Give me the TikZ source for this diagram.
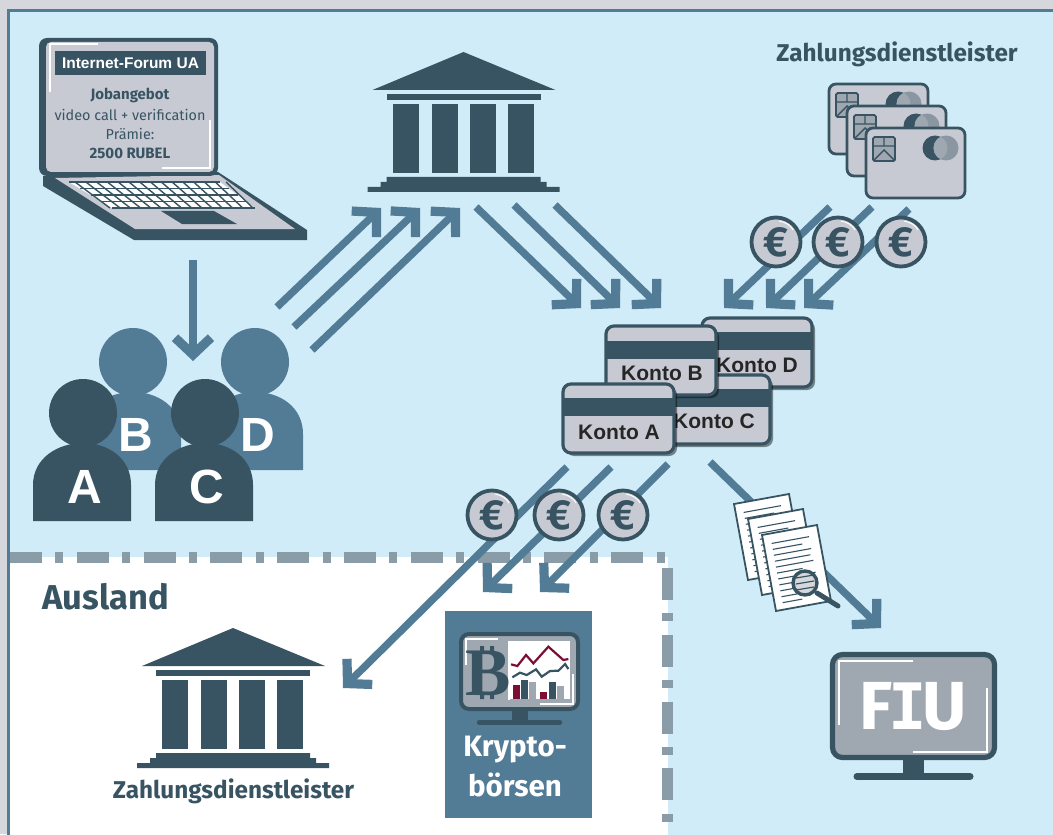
\documentclass[tikz,border=0pt]{standalone}
\usepackage{fontspec}
\setmainfont{Fira Sans}
\newfontfamily\arialf{Liberation Sans}
\newfontfamily\seriff{Liberation Serif}
\newfontfamily\monof{DejaVu Sans Mono}
\usetikzlibrary{arrows.meta,shadows}
\definecolor{dark}{HTML}{385463}
\definecolor{mid}{HTML}{527B96}
\definecolor{bgblue}{HTML}{CFECF8}
\definecolor{outer}{HTML}{D6D7DD}
\definecolor{cardg}{HTML}{C8CAD3}
\definecolor{scr}{HTML}{9FA7B0}
\definecolor{dashg}{HTML}{8A9CA8}
\definecolor{wine}{HTML}{7A0F33}
\newcommand{\fpx}[1]{\fontsize{\fpeval{#1/2}pt}{\fpeval{#1/2*1.15}pt}\selectfont}
\tikzset{
 x=.5pt,y=-.5pt,
 flow/.style={draw=mid,line width=3.7pt,-{Straight Barb[sharp,length=8.5pt,width=18pt,line width=4.6pt]}},
 coin/.style={circle,draw=dark,line width=1.9pt,fill=cardg,minimum size=24.5pt,inner sep=0pt,text=dark,font=\fpx{42}\bfseries},
 konto/.style={draw=dark,line width=1.6pt,fill=cardg,rounded corners=4pt,drop shadow={shadow xshift=1.5pt,shadow yshift=-1.5pt,opacity=.45,fill=black}},
 kontotext/.style={font=\arialf\fpx{21}\bfseries,text=black!85,inner sep=0pt},
 personlabel/.style={font=\arialf\fpx{48}\bfseries,text=white,inner sep=0pt},
 heading/.style={font=\fpx{24.3}\bfseries,text=dark,inner sep=0pt},
 scrtext/.style={font=\fpx{14.4},text=dark,inner sep=0pt},
 pics/bank/.style={code={
  \fill[dark] (0,0) -- (92,38) -- (-91,38) -- cycle;
  \fill[dark] (-77,42) rectangle (77,48);
  \foreach \cx in {-71,-32,6,44} \fill[dark] (\cx,52) rectangle ++(26,69);
  \fill[dark] (-77,125) -- (77,125) -- (77,130) -- (83,130) -- (83,135) -- (96,135) -- (96,140) -- (-96,140) -- (-96,135) -- (-83,135) -- (-83,130) -- (-77,130) -- cycle;
 }},
 pics/person/.style={code={
  \fill[#1] (0,0) circle[radius=34];
  \fill[#1] (-50,108) -- (-50,72) .. controls (-50,45) and (-25,30) .. (0,30) .. controls (25,30) and (48,45) .. (48,72) -- (48,108) -- cycle;
 }},
}
\newcommand{\creditcard}[2]{%
\begin{scope}[shift={(#1,#2)}]
 \draw[dark,line width=1.4pt,fill=cardg,rounded corners=3.5pt] (0,0) rectangle (99,70);
 \fill[dark] (69,20) circle[radius=12.5];
 \fill[scr!80!dark] (80,20) circle[radius=12.5];
 \begin{scope}\clip (69,20) circle[radius=12.5];\fill[scr] (80,20) circle[radius=12.5];\end{scope}
 \draw[dark,line width=.9pt,fill=scr,rounded corners=.8pt] (7,9) rectangle (29,33);
 \draw[dark,line width=.7pt] (7,18) -- (29,18) (18,9) -- (18,18) (7,33) -- (18,22) -- (29,33);
\end{scope}}
\newcommand{\docpage}[2]{%
\begin{scope}[shift={(#1,#2)},x={(.491pt,.0893pt)},y={(.0909pt,-.4935pt)}]
 \draw[dark,line width=.9pt,fill=white] (0,0) -- (56,0) -- (56,77) -- (0,77) -- cycle;
 \foreach \ly/\lx in {10/46,16/38,22/46,28/44,34/46,40/34,46/46,52/44,58/46,64/40,70/28}
   \draw[dark,line width=.55pt] (8,\ly) -- (\lx,\ly);
\end{scope}}
\begin{document}
\begin{tikzpicture}
\useasboundingbox (0,0) rectangle (1053,834);
\begin{scope}
\clip (0,0) rectangle (1053,834);
\fill[outer] (0,0) rectangle (1053,834);
\draw[mid,line width=1.3pt,fill=bgblue] (8.5,10.5) rectangle (1070,850);
% Ausland
\fill[white] (10,557) rectangle (668,840);
\draw[dashg,line width=5.4pt,dash pattern=on 16pt off 6.7pt on 4pt off 6.7pt] (10,557.5) -- (667.5,557.5) -- (667.5,840);
\node[heading,font=\fpx{34.5}\bfseries,anchor=west] (ausland) at (42,597) {Ausland};

% laptop
\fill[dark] (43,176) -- (218,172) -- (307,230) -- (307,240) -- (134,240) -- (43,186) -- cycle;
\fill[cardg] (55,178) -- (219,175) -- (295,229) -- (135,229) -- cycle;
\fill[white] (69,182) -- (220,182) -- (255,208) -- (112,208) -- cycle;
\foreach \r in {0,1,2,3,4}{
 \draw[dark,line width=.7pt] ({69+\r*43/4},{182+\r*26/4}) -- ({220+\r*35/4},{182+\r*26/4});
}
\foreach \c in {0,...,14}{
 \draw[dark,line width=.7pt] ({69+\c*151/14+6},182) -- ({112+\c*143/14-2},208);
}
\fill[dark] (161,211) -- (214,211) -- (237,224) -- (182,224) -- cycle;
\fill[dark,rounded corners=4pt] (39,38) rectangle (218,176);
\fill[cardg,rounded corners=2.5pt] (46,42) rectangle (214,172);
\draw[white,line width=1pt] (98,44) -- (50,44) -- (50,92);
\draw[white,line width=1pt] (210,120) -- (210,168) -- (162,168);
\fill[dark] (55,51) rectangle (206,75);
\node[font=\arialf\fpx{15.5}\bfseries,text=white,inner sep=0pt] (forum) at (130.5,63) {Internet-Forum UA};
\node[scrtext,font=\fpx{15}\bfseries] (job) at (130,95) {Jobangebot};
\node[scrtext] (video) at (130,115) {video call + verification};
\node[scrtext] (praemie) at (130,134) {Prämie:};
\node[scrtext,font=\fpx{15}\bfseries] (rubel) at (130,153) {2500 RUBEL};

% banks
\pic at (463.5,52) {bank};
\pic at (233,628) {bank};
\node[heading,anchor=center] (zd1) at (897,54) {Zahlungsdienstleister};
\node[heading,anchor=center] (zd2) at (233.5,791) {Zahlungsdienstleister};

% credit cards
\creditcard{829}{84}
\creditcard{847}{106}
\creditcard{866}{128}

% persons
\pic at (133,362) {person=mid};
\pic at (255,362) {person=mid};
\pic at (83,413) {person=dark};
\pic at (205,413) {person=dark};
\node[personlabel] (A) at (85,487) {A};
\node[personlabel] (B) at (136,435) {B};
\node[personlabel] (C) at (207,487) {C};
\node[personlabel] (D) at (258,435) {D};

% named arrow ends
\coordinate (lap) at (193,260); \coordinate (grp) at (193,361);
\coordinate (p1) at (277,307); \coordinate (b1) at (381,208);
\coordinate (p2) at (294,327); \coordinate (b2) at (420,208);
\coordinate (p3) at (312,350); \coordinate (b3) at (460,208);
\coordinate (o1) at (476,207); \coordinate (k1) at (581,308);
\coordinate (o2) at (514,205); \coordinate (k2) at (620,308);
\coordinate (o3) at (555,205); \coordinate (k3) at (661,308);
\coordinate (c1) at (830,207); \coordinate (k4) at (724,308);
\coordinate (c2) at (872,207); \coordinate (k5) at (766,308);
\coordinate (c3) at (909,209); \coordinate (k6) at (804,308);
\coordinate (s1) at (567,467); \coordinate (a1) at (343,688);
\coordinate (s2) at (611,467); \coordinate (a2) at (483,592);
\coordinate (s3) at (668,464); \coordinate (a3) at (540,592);
\coordinate (s4) at (710,462); \coordinate (f1) at (881,628);

\draw[flow] (lap) -- (grp);
\draw[flow] (p1) -- (b1);
\draw[flow] (p2) -- (b2);
\draw[flow] (p3) -- (b3);
\draw[flow] (o1) -- (k1);
\draw[flow] (o2) -- (k2);
\draw[flow] (o3) -- (k3);
\draw[flow] (c1) -- (k4);
\draw[flow] (c2) -- (k5);
\draw[flow] (c3) -- (k6);
\draw[flow] (s1) -- (a1);
\draw[flow] (s2) -- (a2);
\draw[flow] (s3) -- (a3);
\draw[flow] (s4) -- (f1);

% coins
\foreach \n/\cx/\cy in {e1/776/242,e2/838/242,e3/901/242,e4/492/515,e5/559/515,e6/623/515}{
 \node[coin] (\n) at (\cx,\cy) {€};
 \draw[white,line width=.5pt] (\cx+3,\cy-21) .. controls (\cx+10,\cy-20) and (\cx+15,\cy-16) .. (\cx+17,\cy-12);
}

% Konto cards
\foreach \kx/\ky in {702/318,660/375}{
 \begin{scope}[shift={(\kx,\ky)}]
  \path[konto] (0,0) rectangle (110,69);
  \fill[dark] (1,14) rectangle (109,32);
 \end{scope}
}
\node[kontotext] (kd) at (757,365) {Konto D};
\node[kontotext] (kc) at (714,421) {Konto C};
\begin{scope}[shift={(606,326)}]
  \path[konto] (0,0) rectangle (110,69);
  \fill[dark] (1,15) rectangle (109,33);
\end{scope}
\node[kontotext] (kb) at (662,373) {Konto B};
\begin{scope}[shift={(563,384)}]
  \path[konto] (0,0) rectangle (111,69);
  \fill[dark] (1,14) rectangle (110,32);
\end{scope}
\node[kontotext] (ka) at (619,432) {Konto A};

% documents
\docpage{734}{504}
\docpage{748}{519}
\docpage{762}{535}
\draw[dark,line width=2.5pt,line cap=round] (817,593) -- (838,606);
\draw[dark,line width=1.7pt,fill=outer] (805,583) circle[radius=12];
\foreach \ly in {577,583,589} \draw[dark,line width=.6pt] (796,\ly+1) -- (814,\ly-2);

% FIU monitor
\fill[dark] (903,758) rectangle (924,775);
\draw[dark,line width=3.5pt,line cap=round] (857,776.5) -- (970,776.5);
\draw[dark,line width=2.6pt,fill=scr,rounded corners=5pt] (832.5,654.5) rectangle (994.5,757.5);
\draw[white,line width=.7pt] (913,661) -- (839,661) -- (839,725);
\draw[white,line width=.7pt] (987,688) -- (987,752) -- (913,752);
\node[font=\fpx{68}\bfseries,text=white,inner sep=0pt] (fiu) at (913,707) {F\kern-2pt{\monof\fpx{64}\bfseries I}\kern-2pt U};

% Krypto panel
\fill[mid] (445,611) rectangle (592,818);
\fill[dark] (512,709) rectangle (528,722);
\draw[dark,line width=2.2pt,line cap=round] (479,722.5) -- (560,722.5);
\draw[dark,line width=2pt,fill=scr,rounded corners=4pt] (461,634) rectangle (578,709);
\fill[white] (508,641) rectangle (570,700);
\draw[white,line width=.6pt] (498,639) -- (466,639) -- (466,665);
\draw[white,line width=.6pt] (573,674) -- (573,704) -- (540,704);
\node[font=\seriff\fpx{68}\bfseries,text=dark,inner sep=0pt] (btc) at (488,673) {B};
\fill[dark] (480,646) rectangle (484,652) (490,646) rectangle (494,652) (480,693) rectangle (484,699) (490,693) rectangle (494,699);
\begin{scope}[shift={(430,600)},x=.1667pt,y=-.1667pt]
 \fill[wine] (249,255) rectangle (270,298);
 \fill[dark] (273,240) rectangle (294,298);
 \fill[scr] (296,246) rectangle (318,298);
 \fill[wine] (330,276) rectangle (351,298);
 \fill[dark] (357,246) rectangle (378,298);
 \fill[scr] (381,258) rectangle (402,298);
 \fill[scr] (240,298) rectangle (420,301);
 \draw[wine,line width=1.1pt] (243,193) -- (262,198) -- (288,165) -- (310,190) -- (355,140) -- (400,180) -- (415,177);
 \draw[dark,line width=1.1pt] (247,232) -- (270,218) -- (290,225) -- (318,208) -- (335,230) -- (360,213) -- (385,212) -- (405,192) -- (415,207);
\end{scope}
\node[font=\fpx{29.5}\bfseries,text=white,inner sep=0pt] (kr1) at (515,750) {Krypto-};
\node[font=\fpx{29.5}\bfseries,text=white,inner sep=0pt] (kr2) at (515,785) {börsen};
\end{scope}
\end{tikzpicture}
\end{document}
